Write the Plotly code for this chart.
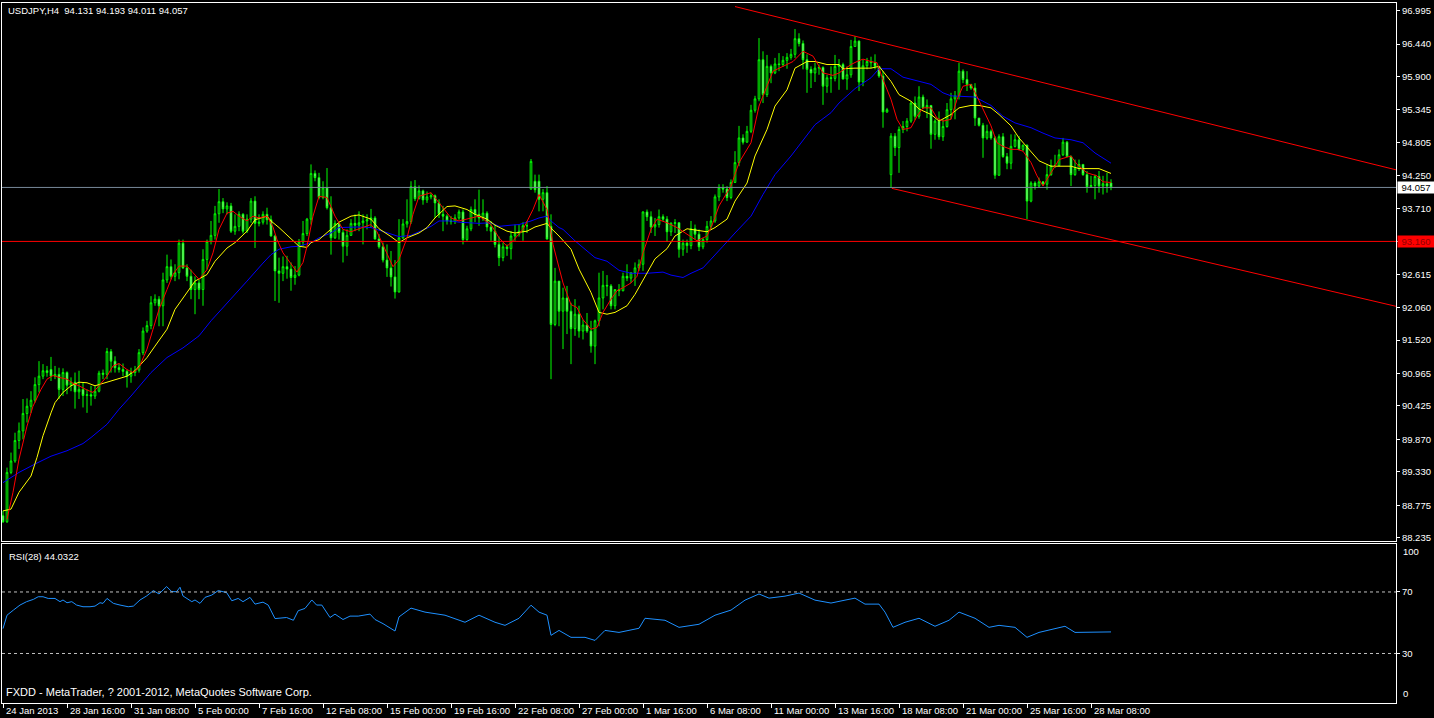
import plotly.graph_objects as go

# ---------------- data ----------------
tick_labels = ["24 Jan 2013", "28 Jan 16:00", "31 Jan 08:00", "5 Feb 00:00", "7 Feb 16:00",
               "12 Feb 08:00", "15 Feb 00:00", "19 Feb 16:00", "22 Feb 08:00", "27 Feb 00:00",
               "1 Mar 16:00", "6 Mar 08:00", "11 Mar 00:00", "13 Mar 16:00", "18 Mar 08:00",
               "21 Mar 00:00", "25 Mar 16:00", "28 Mar 08:00"]
tick_bars = [0, 16, 32, 48, 64, 80, 96, 112, 128, 144, 160, 176, 192, 208, 224, 240, 256, 272]

price_ticks = [96.995, 96.440, 95.900, 95.345, 94.805, 94.250, 93.710, 93.160, 92.615,
               92.060, 91.520, 90.965, 90.425, 89.870, 89.330, 88.775, 88.235]

open_ = [
 88.60, 88.50, 89.32, 89.51, 89.85, 90.01, 90.30, 90.42, 90.52, 90.78,
 90.92, 91.01, 91.03, 90.92, 90.95, 90.70, 90.98, 90.77, 90.82, 90.66,
 90.70, 90.60, 90.61, 90.59, 90.67, 90.97, 90.95, 91.33, 91.17, 91.06,
 91.03, 91.00, 90.92, 90.98, 91.02, 91.31, 91.67, 91.76, 92.14, 92.20,
 92.09, 92.52, 92.74, 92.58, 92.64, 93.13, 92.72, 92.58, 92.36, 92.47,
 92.36, 92.86, 93.16, 93.26, 93.62, 93.82, 93.70, 93.75, 93.33, 93.41,
 93.61, 93.33, 93.53, 93.83, 93.46, 93.48, 93.61, 93.52, 93.25, 92.67,
 92.63, 92.74, 92.70, 92.56, 92.60, 93.15, 93.29, 93.53, 94.29, 94.22,
 93.89, 94.05, 93.72, 93.22, 93.46, 93.31, 93.08, 93.26, 93.46, 93.43,
 93.47, 93.50, 93.52, 93.55, 93.20, 93.07, 92.85, 92.72, 92.57, 92.32,
 93.22, 93.45, 93.49, 94.07, 93.87, 94.00, 93.85, 93.90, 93.92, 93.80,
 93.61, 93.58, 93.50, 93.49, 93.55, 93.65, 93.19, 93.37, 93.69, 93.61,
 93.55, 93.63, 93.40, 93.33, 93.11, 92.89, 93.07, 93.04, 93.25, 93.28,
 93.33, 93.42, 94.03, 94.16, 94.16, 93.86, 93.97, 93.41, 91.78, 92.50,
 92.00, 92.22, 92.00, 91.71, 91.95, 91.67, 91.77, 91.67, 91.42, 91.84,
 92.22, 92.43, 92.42, 92.09, 92.36, 92.34, 92.58, 92.55, 92.64, 92.72,
 92.78, 93.65, 93.57, 93.40, 93.44, 93.57, 93.53, 93.32, 93.46, 93.47,
 93.03, 93.13, 93.09, 93.37, 93.28, 93.07, 93.19, 93.41, 93.50, 93.90,
 94.05, 94.03, 93.89, 94.14, 94.47, 94.88, 94.81, 94.99, 95.34, 95.53,
 96.18, 95.60, 96.07, 95.96, 96.11, 96.10, 96.17, 96.22, 96.27, 96.53,
 96.45, 96.18, 96.02, 95.96, 96.04, 96.05, 95.74, 95.88, 95.87, 96.07,
 96.10, 95.86, 95.93, 96.40, 96.49, 95.81, 96.08, 96.15, 96.13, 96.07,
 95.91, 95.31, 94.27, 94.91, 94.72, 95.02, 95.07, 95.16, 95.46, 95.24,
 95.56, 95.38, 95.42, 94.94, 95.16, 94.90, 95.07, 95.35, 95.53, 95.58,
 95.99, 95.85, 95.77, 95.71, 95.21, 95.09, 94.88, 94.99, 94.88, 94.26,
 94.90, 94.57, 94.46, 94.74, 94.85, 94.69, 94.76, 93.83, 94.13, 94.08,
 94.15, 94.11, 94.27, 94.42, 94.42, 94.60, 94.81, 94.57, 94.27, 94.37,
 94.44, 94.27, 94.07, 94.09, 94.24, 94.08, 94.12, 94.131]

high_ = [
 88.68, 89.40, 89.65, 89.98, 90.15, 90.54, 90.55, 90.67, 90.90, 91.17,
 91.12, 91.09, 91.24, 91.09, 91.06, 91.05, 91.00, 90.90, 90.98, 91.01,
 90.81, 90.70, 90.76, 90.76, 91.01, 91.03, 91.39, 91.37, 91.25, 91.13,
 91.13, 91.03, 91.06, 91.09, 91.37, 91.73, 91.84, 92.25, 92.28, 92.25,
 92.64, 92.94, 92.86, 92.78, 93.19, 93.19, 92.78, 92.69, 92.58, 92.53,
 93.03, 93.19, 93.50, 93.75, 94.03, 93.88, 93.81, 93.80, 93.61, 93.66,
 93.63, 93.61, 93.88, 93.91, 93.61, 93.66, 93.72, 93.59, 93.27, 92.89,
 92.91, 92.92, 92.81, 92.75, 93.20, 93.50, 93.55, 94.44, 94.34, 94.30,
 94.16, 94.38, 93.91, 93.51, 93.47, 93.36, 93.36, 93.53, 93.61, 93.66,
 93.61, 93.61, 93.70, 93.58, 93.28, 93.14, 93.11, 93.00, 92.85, 93.53,
 93.53, 93.86, 94.16, 94.18, 94.09, 94.02, 93.99, 93.97, 93.94, 93.86,
 93.75, 93.61, 93.58, 93.61, 93.69, 93.69, 93.42, 93.74, 93.86, 94.02,
 93.86, 93.66, 93.50, 93.44, 93.24, 93.14, 93.11, 93.33, 93.44, 93.44,
 93.48, 93.50, 94.53, 94.27, 94.27, 94.03, 94.08, 93.61, 92.72, 92.50,
 92.39, 92.42, 92.14, 92.20, 92.09, 91.86, 91.97, 91.84, 91.86, 92.64,
 92.67, 92.60, 92.45, 92.36, 92.45, 92.64, 92.78, 92.64, 92.81, 92.86,
 93.66, 93.69, 93.66, 93.55, 93.69, 93.61, 93.58, 93.48, 93.53, 93.48,
 93.19, 93.19, 93.50, 93.44, 93.36, 93.22, 93.50, 93.58, 93.94, 94.11,
 94.11, 94.08, 94.19, 94.66, 95.08, 94.94, 95.08, 95.43, 95.58, 96.54,
 96.32, 96.26, 96.10, 96.21, 96.29, 96.24, 96.29, 96.36, 96.69, 96.62,
 96.50, 96.27, 96.07, 96.13, 96.10, 96.07, 95.93, 96.07, 96.26, 96.19,
 96.13, 96.07, 96.51, 96.57, 96.50, 96.18, 96.21, 96.23, 96.27, 96.07,
 95.99, 95.38, 94.96, 94.96, 95.07, 95.16, 95.21, 95.49, 95.57, 95.74,
 95.60, 95.52, 95.42, 95.19, 95.32, 95.19, 95.46, 95.63, 95.66, 96.13,
 96.02, 95.99, 95.77, 95.79, 95.21, 95.13, 95.10, 95.02, 94.91, 94.94,
 94.96, 94.63, 94.94, 94.94, 94.91, 94.77, 94.77, 94.16, 94.16, 94.22,
 94.16, 94.44, 94.52, 94.60, 94.69, 94.88, 94.83, 94.59, 94.52, 94.52,
 94.44, 94.33, 94.25, 94.27, 94.33, 94.25, 94.30, 94.193]

low_ = [
 88.48, 88.48, 89.29, 89.48, 89.71, 89.87, 90.15, 90.31, 90.48, 90.65,
 90.87, 90.91, 90.84, 90.87, 90.54, 90.59, 90.62, 90.67, 90.38, 90.54,
 90.40, 90.31, 90.43, 90.54, 90.65, 90.87, 90.87, 90.98, 90.98, 90.98,
 90.92, 90.73, 90.81, 90.92, 90.98, 91.27, 91.64, 91.70, 92.09, 91.75,
 91.75, 92.47, 92.53, 92.50, 92.53, 92.70, 92.50, 92.20, 91.95, 92.20,
 92.09, 92.69, 93.11, 93.19, 93.47, 93.63, 93.61, 93.30, 93.27, 93.33,
 93.29, 93.30, 93.47, 93.05, 93.41, 93.44, 93.44, 93.24, 92.17, 92.14,
 92.50, 92.54, 92.34, 92.44, 92.58, 93.08, 93.25, 93.44, 94.16, 93.86,
 93.86, 93.69, 92.94, 93.20, 93.19, 92.81, 92.92, 93.25, 93.33, 93.33,
 93.11, 93.36, 93.39, 93.19, 93.04, 92.81, 92.57, 92.41, 92.21, 92.31,
 93.20, 93.39, 93.45, 93.83, 93.86, 93.77, 93.80, 93.86, 93.55, 93.55,
 93.33, 93.44, 93.44, 93.45, 93.52, 93.11, 93.17, 93.33, 93.48, 93.42,
 93.50, 93.33, 93.17, 93.06, 92.75, 92.83, 92.92, 92.86, 93.17, 93.24,
 93.17, 93.30, 94.02, 93.97, 93.66, 93.66, 93.19, 90.87, 91.75, 91.75,
 91.37, 91.62, 91.12, 91.59, 91.56, 91.53, 91.64, 91.31, 91.12, 91.75,
 92.03, 92.25, 92.03, 92.03, 92.25, 92.33, 92.50, 92.47, 92.42, 92.67,
 92.67, 93.50, 93.30, 93.25, 93.39, 93.50, 93.15, 93.25, 93.30, 92.89,
 92.92, 92.97, 93.03, 93.19, 93.00, 93.03, 93.14, 93.36, 93.47, 93.83,
 93.97, 93.83, 93.86, 94.13, 94.41, 94.77, 94.80, 94.96, 95.30, 95.49,
 95.46, 95.56, 95.79, 95.94, 95.99, 96.06, 96.03, 96.18, 96.21, 96.40,
 96.02, 95.63, 95.71, 95.81, 95.93, 95.43, 95.63, 95.63, 95.82, 95.68,
 95.85, 95.68, 95.88, 96.40, 95.66, 95.74, 96.02, 96.04, 96.02, 95.88,
 95.05, 95.30, 94.05, 94.58, 94.30, 94.96, 94.99, 95.13, 95.18, 95.20,
 95.36, 95.21, 94.70, 94.85, 94.85, 94.83, 95.05, 95.19, 95.19, 95.52,
 95.79, 95.66, 95.68, 95.08, 95.07, 94.55, 94.85, 94.85, 94.20, 94.25,
 94.55, 94.36, 94.36, 94.72, 94.68, 94.66, 93.53, 93.81, 94.02, 94.05,
 94.08, 94.02, 94.25, 94.38, 94.41, 94.58, 94.57, 94.08, 94.25, 94.33,
 94.25, 93.97, 94.05, 93.86, 93.97, 93.94, 93.97, 94.011]

close_ = [
 88.50, 89.32, 89.51, 89.85, 90.01, 90.30, 90.42, 90.52, 90.78, 90.92,
 91.01, 90.98, 90.92, 90.95, 90.70, 90.98, 90.77, 90.82, 90.66, 90.70,
 90.60, 90.61, 90.59, 90.67, 90.97, 90.95, 91.33, 91.17, 91.06, 91.03,
 91.00, 90.92, 90.98, 91.02, 91.31, 91.67, 91.76, 92.14, 92.20, 92.09,
 92.52, 92.74, 92.58, 92.64, 93.13, 92.72, 92.58, 92.36, 92.47, 92.36,
 92.86, 93.16, 93.26, 93.62, 93.82, 93.70, 93.75, 93.33, 93.41, 93.61,
 93.33, 93.53, 93.83, 93.46, 93.48, 93.61, 93.52, 93.25, 92.67, 92.63,
 92.74, 92.70, 92.56, 92.60, 93.15, 93.29, 93.53, 94.29, 94.22, 93.89,
 94.05, 93.72, 93.22, 93.46, 93.31, 93.08, 93.26, 93.46, 93.43, 93.47,
 93.50, 93.52, 93.55, 93.20, 93.07, 92.85, 92.72, 92.57, 92.32, 93.22,
 93.45, 93.49, 94.07, 93.87, 94.00, 93.85, 93.90, 93.92, 93.80, 93.61,
 93.58, 93.50, 93.49, 93.55, 93.65, 93.19, 93.37, 93.69, 93.61, 93.55,
 93.63, 93.40, 93.33, 93.11, 92.89, 93.07, 93.04, 93.25, 93.28, 93.33,
 93.42, 93.42, 94.49, 94.02, 93.86, 93.97, 93.20, 91.78, 92.50, 92.00,
 92.22, 92.00, 91.71, 91.95, 91.67, 91.77, 91.67, 91.42, 91.84, 92.22,
 92.43, 92.42, 92.09, 92.36, 92.34, 92.58, 92.55, 92.64, 92.72, 92.78,
 93.65, 93.57, 93.40, 93.44, 93.57, 93.53, 93.32, 93.46, 93.47, 93.03,
 93.13, 93.09, 93.37, 93.28, 93.07, 93.19, 93.41, 93.50, 93.90, 94.05,
 94.03, 93.89, 94.14, 94.47, 94.88, 94.81, 94.99, 95.34, 95.53, 96.18,
 95.60, 96.07, 95.96, 96.11, 96.10, 96.17, 96.22, 96.27, 96.53, 96.45,
 96.18, 96.02, 95.96, 96.04, 96.05, 95.74, 95.88, 95.87, 96.07, 96.10,
 95.86, 95.93, 96.40, 96.49, 95.81, 96.08, 96.15, 96.13, 96.07, 95.91,
 95.31, 95.35, 94.91, 94.72, 95.02, 95.07, 95.16, 95.46, 95.24, 95.56,
 95.38, 95.42, 94.94, 95.16, 94.90, 95.07, 95.35, 95.53, 95.58, 95.99,
 95.85, 95.77, 95.71, 95.21, 95.09, 94.88, 94.99, 94.88, 94.26, 94.90,
 94.57, 94.46, 94.74, 94.85, 94.69, 94.76, 93.83, 94.13, 94.08, 94.15,
 94.11, 94.27, 94.42, 94.42, 94.60, 94.81, 94.57, 94.27, 94.37, 94.44,
 94.27, 94.07, 94.09, 94.24, 94.08, 94.12, 94.08, 94.057]

# moving averages as drawn (bar index, price)
ma_red_bar = [1, 2.5, 4, 6, 7.5, 9.5, 11, 12.5, 14, 16, 17.5, 19, 21, 22.5, 24, 26, 27.5, 29, 31, 32.5,
              34, 36, 37.5, 39, 41, 42.5, 44, 46, 47.5, 49, 51, 52.5, 54, 56, 57.5, 59, 61, 62.5, 64, 66,
              67.5, 68.5, 70, 72, 73.5, 75, 76, 77.5, 79, 81, 83, 85, 87, 89, 92, 93.5, 95.5, 97.5, 99, 101,
              102.5, 104, 107, 109, 112, 114, 117, 119, 122, 124, 126, 127.5, 130, 132.5, 134, 136, 137.5, 139, 140, 142,
              143.5, 145, 147, 148.5, 150, 152, 153.5, 155, 157, 158.5, 160, 162, 163.5, 166, 168.5, 171, 173.5, 176, 177.5, 179,
              182, 184, 187, 189, 191, 192.5, 195, 197.5, 200, 202.5, 205, 207.5, 209, 212, 213.5, 215, 217, 218.5, 220, 222,
              223.5, 225, 227, 228.5, 230, 232, 233.5, 235, 237, 238.5, 240, 242, 243.5, 245, 247, 248.5, 250, 252, 253.5, 255,
              257, 258.5, 260, 262, 264, 267, 268.5, 271, 273.5, 275, 277]
ma_red_val = [88.54, 88.99, 89.54, 90.09, 90.42, 90.70, 90.87, 90.93, 90.90, 90.87,
              90.80, 90.76, 90.69, 90.65, 90.76, 90.92, 91.09, 91.13, 91.03, 90.98,
              91.06, 91.37, 91.70, 92.03, 92.36, 92.61, 92.75, 92.75, 92.64, 92.53,
              92.69, 92.97, 93.36, 93.63, 93.66, 93.58, 93.50, 93.58, 93.55, 93.58,
              93.40, 93.19, 92.97, 92.78, 92.65, 92.81, 93.08, 93.58, 93.91, 93.89,
              93.58, 93.36, 93.32, 93.37, 93.44, 93.32, 93.03, 92.74, 92.86, 93.22,
              93.61, 93.91, 93.97, 93.80, 93.55, 93.50, 93.55, 93.58, 93.44, 93.22,
              93.08, 93.17, 93.36, 93.69, 93.94, 93.69, 93.11, 92.70, 92.47, 92.11,
              92.06, 91.86, 91.70, 91.73, 91.98, 92.20, 92.34, 92.39, 92.47, 92.58,
              92.97, 93.36, 93.53, 93.47, 93.39, 93.28, 93.17, 93.25, 93.47, 93.75,
              94.08, 94.47, 94.80, 95.41, 95.74, 95.99, 96.07, 96.15, 96.32, 96.24,
              95.96, 95.92, 95.96, 96.10, 96.15, 96.19, 96.15, 96.13, 95.85, 95.52,
              95.19, 95.02, 95.05, 95.24, 95.38, 95.38, 95.21, 95.16, 95.19, 95.52,
              95.74, 95.77, 95.57, 95.35, 95.08, 94.80, 94.74, 94.69, 94.69, 94.66,
              94.47, 94.25, 94.08, 94.30, 94.52, 94.58, 94.44, 94.30, 94.25, 94.15,
              94.14]

ma_yellow_bar = [0, 2, 4, 7, 8.5, 10, 12, 13, 15, 17, 19, 21, 23, 26, 28, 31, 33, 36, 38, 41,
                 43, 46, 48, 51, 53, 56, 58, 61, 63, 66, 67, 69, 72, 74, 76, 77, 79, 82, 84, 87,
                 89, 92, 94, 97, 99, 101, 104, 106, 108, 111, 113, 116, 118, 121, 123, 126, 128, 131, 133, 136,
                 137, 139, 142, 144, 147, 149, 151, 153, 156, 158, 161, 163, 166, 168, 171, 173, 176, 178, 181, 183,
                 186, 188, 191, 193, 196, 198, 201, 203, 206, 209, 210, 213, 217, 219, 222, 224, 227, 229, 232, 234,
                 237, 239, 242, 244, 247, 249, 252, 254, 257, 259, 262, 264, 267, 269, 272, 274, 277]
ma_yellow_val = [88.68, 88.71, 88.99, 89.26, 89.57, 89.93, 90.31, 90.48, 90.65, 90.76,
                 90.82, 90.81, 90.76, 90.82, 90.87, 90.92, 91.01, 91.23, 91.42, 91.70,
                 92.03, 92.31, 92.50, 92.61, 92.83, 93.05, 93.14, 93.33, 93.52, 93.58,
                 93.50, 93.39, 93.20, 93.08, 93.06, 93.14, 93.19, 93.36, 93.48, 93.58,
                 93.60, 93.53, 93.37, 93.24, 93.14, 93.22, 93.30, 93.39, 93.55, 93.74,
                 93.75, 93.69, 93.61, 93.53, 93.43, 93.33, 93.30, 93.33, 93.40, 93.46,
                 93.38, 93.25, 93.03, 92.70, 92.31, 91.98, 91.95, 91.98, 92.09, 92.28,
                 92.64, 92.87, 93.04, 93.25, 93.37, 93.35, 93.32, 93.39, 93.53, 93.83,
                 94.13, 94.58, 95.02, 95.41, 95.68, 96.04, 96.15, 96.15, 96.10, 96.10,
                 96.03, 96.04, 96.04, 96.07, 95.82, 95.60, 95.49, 95.36, 95.27, 95.16,
                 95.27, 95.38, 95.42, 95.42, 95.38, 95.27, 95.08, 94.88, 94.66, 94.50,
                 94.41, 94.41, 94.41, 94.37, 94.37, 94.37, 94.29]

ma_blue_bar = [0, 4, 8, 12, 16, 20, 22, 26, 29, 32, 37, 41, 45, 49, 52, 57, 61, 65, 67, 69,
               72, 74, 77, 79, 82, 84, 87, 89, 92, 94, 97, 99, 102, 104, 107, 109, 112, 114, 117, 119,
               122, 124, 127, 129, 132, 134, 136, 137, 139, 140, 143, 148, 151, 154, 157, 161, 165, 167, 170, 172,
               175, 177, 180, 183, 187, 190, 193, 197, 200, 203, 207, 209, 213, 217, 219, 222, 225, 228, 232, 235,
               237, 240, 243, 247, 250, 253, 257, 260, 263, 267, 270, 273, 277]
ma_blue_val = [89.15, 89.32, 89.46, 89.59, 89.68, 89.80, 89.90, 90.12, 90.37, 90.59,
               90.98, 91.23, 91.39, 91.59, 91.84, 92.20, 92.50, 92.80, 92.94, 93.03,
               93.07, 93.08, 93.14, 93.22, 93.30, 93.39, 93.40, 93.40, 93.39, 93.35,
               93.29, 93.24, 93.26, 93.32, 93.41, 93.50, 93.50, 93.48, 93.47, 93.46,
               93.47, 93.41, 93.43, 93.44, 93.50, 93.55, 93.58, 93.50, 93.39, 93.36,
               93.17, 92.89, 92.83, 92.68, 92.63, 92.63, 92.65, 92.60, 92.56, 92.63,
               92.72, 92.87, 93.08, 93.30, 93.58, 93.94, 94.27, 94.58, 94.85, 95.10,
               95.30, 95.46, 95.70, 95.88, 96.03, 96.03, 95.89, 95.84, 95.77, 95.63,
               95.58, 95.57, 95.56, 95.42, 95.24, 95.13, 95.05, 94.96, 94.88, 94.85,
               94.80, 94.63, 94.46]

rsi_bar = [0, 1, 2.6, 4.25, 5.9, 7.6, 8.8, 10, 11.3, 13, 14.25, 15, 16, 17.2, 18.4, 20, 21.75, 23, 24.25, 25,
           26, 27.6, 29.25, 31.3, 32.6, 34.25, 35.9, 37.6, 39, 40.9, 42.2, 43.4, 44.25, 45, 47.2, 48, 49.25, 50.5, 52.2, 53.8,
           55.9, 57.2, 58.8, 60, 61.75, 63, 65, 66.3, 68, 70.9, 72.6, 73.8, 75.5, 77.2, 78.4, 79.7, 81.75, 83, 85, 86.75,
           88.8, 91.75, 93, 95, 98, 99,
           102, 105.5, 110.5, 115.5, 119, 123, 125.5, 129, 132, 134, 136, 137, 139, 142, 145.5, 148, 150.5, 154, 159, 160.5,
           165.5, 169, 174, 178, 182, 185.5, 189, 191.5, 195.5, 199, 203, 207, 210.5, 213, 215.5, 219, 220.5, 222.5, 225.5, 229,
           233, 236.5, 239, 243, 246.5, 249, 253, 256, 259, 263, 265.5, 268, 272, 277]
rsi_val = [46.2, 54.9, 58.2, 61.5, 63.7, 65.2, 66.9, 66.9, 65.8, 65.8, 63.7, 64.8, 63.0, 63.7, 61.5, 60.4, 60.4, 60.8, 63.0, 62.6,
           65.8, 62.6, 61.5, 60.4, 60.8, 64.8, 67.4, 70.9, 68.7, 73.5, 70.2, 70.2, 73.1, 67.4, 63.7, 64.8, 62.6, 66.5, 68.0, 70.9,
           69.6, 64.3, 65.8, 63.7, 66.5, 62.1, 63.4, 61.5, 52.7, 53.4, 51.6, 57.8, 59.3, 64.8, 61.5, 61.5, 53.4, 55.6, 52.1, 54.3,
           54.3, 55.6, 52.1, 49.4, 44.6, 53.8,
           59.5, 56.9, 54.9, 50.3, 54.9, 50.3, 48.3, 52.9, 61.4, 56.9, 54.9, 41.8, 45.0, 40.5, 40.5, 38.5, 45.0, 43.7, 46.4, 52.9,
           51.6, 47.0, 49.0, 54.9, 58.2, 64.7, 68.7, 66.0, 67.3, 69.3, 64.7, 62.8, 64.7, 66.0, 62.1, 62.1, 56.9, 47.0, 50.3, 52.9,
           47.7, 51.6, 56.9, 52.9, 47.0, 48.3, 47.0, 40.5, 43.7, 46.4, 47.7, 43.7, 43.7, 44.03]

# drawn objects (anchor bar, price)
channel_upper = [(183.0, 97.064), (348.25, 94.35)]
channel_lower = [(222.2, 94.042), (348.25, 92.081)]
hline_level = 93.160
bid_price = 94.057
rsi_levels = [70, 30]

header_text = "USDJPY,H4  94.131 94.193 94.011 94.057"
rsi_text = "RSI(28) 44.0322"
copyright_text = "FXDD - MetaTrader, ? 2001-2012, MetaQuotes Software Corp."

# ---------------- layout geometry ----------------
W, H = 1434, 718
L_PX, R_PX, T_PX, B_PX = 2, 1396, 3, 703
MAIN_BOT_PX = 541
RSI_TOP_PX = 544
X_RANGE = [-0.25, 348.25]
Y_RANGE = [88.18, 97.123]
RSI_RANGE = [-2.2, 101.2]

FONT = "Liberation Sans, Arial, sans-serif"
FS = 9.5
FS_COPY = 11
LIME = "#00FF00"


def py(px):
    return (B_PX - px) / (B_PX - T_PX)


def pxx(px):
    return (px - L_PX) / (R_PX - L_PX)


bars = list(range(len(close_)))

fig = go.Figure()
fig.add_trace(go.Candlestick(
    x=bars, open=open_, high=high_, low=low_, close=close_,
    increasing=dict(line=dict(color=LIME, width=1), fillcolor="#000000"),
    decreasing=dict(line=dict(color=LIME, width=1), fillcolor="#FFFFFF"),
    whiskerwidth=0, xaxis="x", yaxis="y", hoverinfo="skip", showlegend=False))

for bx, vy, col in [(ma_blue_bar, ma_blue_val, "#0000FF"),
                    (ma_yellow_bar, ma_yellow_val, "#FFFF00"),
                    (ma_red_bar, ma_red_val, "#FF0000")]:
    fig.add_trace(go.Scatter(x=bx, y=vy, mode="lines", line=dict(color=col, width=1),
                             xaxis="x", yaxis="y", hoverinfo="skip", showlegend=False))

fig.add_trace(go.Scatter(x=rsi_bar, y=rsi_val, mode="lines", line=dict(color="#1E90FF", width=1),
                         xaxis="x2", yaxis="y2", hoverinfo="skip", showlegend=False))

shapes = []
for (x0, y0), (x1, y1) in [channel_upper, channel_lower]:
    shapes.append(dict(type="line", xref="x", yref="y", x0=x0, y0=y0, x1=x1, y1=y1,
                       line=dict(color="#FF0000", width=1), layer="above"))
shapes.append(dict(type="line", xref="x", yref="y", x0=X_RANGE[0], x1=X_RANGE[1],
                   y0=bid_price, y1=bid_price, line=dict(color="#778899", width=1), layer="above"))
shapes.append(dict(type="line", xref="x", yref="y", x0=X_RANGE[0], x1=X_RANGE[1],
                   y0=hline_level, y1=hline_level, line=dict(color="#FF0000", width=1), layer="above"))
for lv in rsi_levels:
    shapes.append(dict(type="line", xref="x2", yref="y2", x0=X_RANGE[0], x1=X_RANGE[1],
                       y0=lv, y1=lv, line=dict(color="#C0C0C0", width=1, dash="3px,3px"), layer="above"))

txt = dict(family=FONT, size=FS, color="#FFFFFF")
annotations = [
    dict(text=header_text, xref="paper", yref="paper", x=pxx(6), y=py(10), xanchor="left",
         yanchor="middle", showarrow=False, font=txt),
    dict(text=rsi_text, xref="paper", yref="paper", x=pxx(7), y=py(556), xanchor="left",
         yanchor="middle", showarrow=False, font=txt),
    dict(text=copyright_text, xref="paper", yref="paper", x=pxx(4), y=py(692), xanchor="left",
         yanchor="middle", showarrow=False, font=dict(family=FONT, size=FS_COPY, color="#FFFFFF")),
    dict(text="100", xref="paper", yref="paper", x=pxx(1401), y=py(551), xanchor="left",
         yanchor="middle", showarrow=False, font=txt),
    dict(text="0", xref="paper", yref="paper", x=pxx(1401), y=py(693), xanchor="left",
         yanchor="middle", showarrow=False, font=txt),
    dict(text=f"{bid_price:.3f}", xref="paper", yref="y", x=pxx(1397), y=bid_price, xanchor="left",
         yanchor="middle", showarrow=False, bgcolor="#FFFFFF", borderpad=0, width=36, height=11,
         align="center", font=dict(family=FONT, size=FS, color="#000000")),
    dict(text=f"{hline_level:.3f}", xref="paper", yref="y", x=pxx(1397), y=hline_level, xanchor="left",
         yanchor="middle", showarrow=False, bgcolor="#FF0000", borderpad=0, width=36, height=11,
         align="center", font=dict(family=FONT, size=FS, color="#900000")),
]
# date labels of the time axis, left-aligned just right of each tick (MetaTrader style)
for b, lab in zip(tick_bars, tick_labels):
    annotations.append(dict(text=lab, xref="x2", yref="paper", x=b, y=py(711), xanchor="left",
                            yanchor="middle", xshift=1, showarrow=False, font=txt))

axis_common = dict(showline=True, mirror=True, linecolor="#FFFFFF", linewidth=1,
                   showgrid=False, zeroline=False, fixedrange=True)

fig.update_layout(
    width=W, height=H,
    margin=dict(l=L_PX, r=W - R_PX, t=T_PX, b=H - B_PX, autoexpand=False),
    paper_bgcolor="#000000", plot_bgcolor="#000000",
    showlegend=False, boxgap=0.4,
    xaxis=dict(domain=[0, 1], range=X_RANGE, anchor="y", showticklabels=False, ticks="",
               rangeslider=dict(visible=False), **axis_common),
    yaxis=dict(domain=[py(MAIN_BOT_PX), 1], range=Y_RANGE, side="right", anchor="x",
               ticks="outside", ticklen=3, tickcolor="#FFFFFF",
               tickvals=price_ticks, ticktext=[f"{v:.3f}" for v in price_ticks],
               tickfont=txt, automargin=False, **axis_common),
    xaxis2=dict(domain=[0, 1], range=X_RANGE, anchor="y2", matches="x",
                ticks="outside", ticklen=4, tickcolor="#FFFFFF",
                tickvals=tick_bars, showticklabels=False, automargin=False,
                rangeslider=dict(visible=False), **axis_common),
    yaxis2=dict(domain=[0, py(RSI_TOP_PX)], range=RSI_RANGE, side="right", anchor="x2",
                ticks="outside", ticklen=3, tickcolor="#FFFFFF",
                tickvals=rsi_levels, ticktext=[str(v) for v in rsi_levels],
                tickfont=txt, automargin=False, **axis_common),
    shapes=shapes,
    annotations=annotations,
)

fig.write_html("out.html", config={"displayModeBar": False},
               post_script="document.body.style.margin='0px';document.body.style.padding='0px';"
                           "document.body.style.overflow='hidden';")
